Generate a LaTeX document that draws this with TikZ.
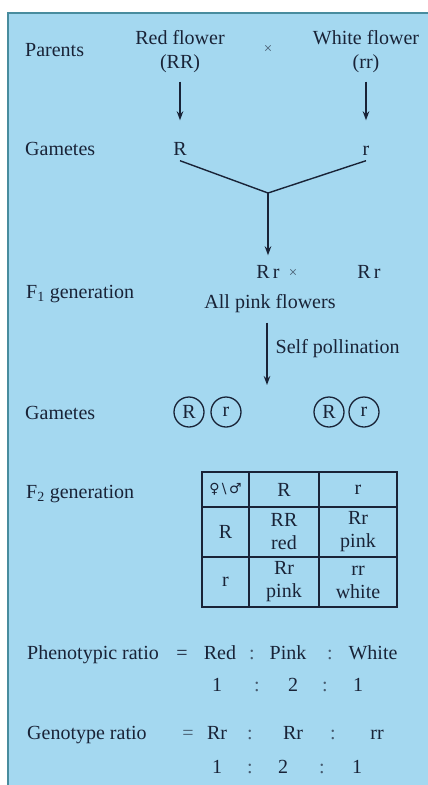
\documentclass[tikz,border=0pt]{standalone}
\usepackage{fontspec}
\setmainfont{Liberation Serif}
\newfontfamily\serifface{Liberation Serif}
\newfontfamily\symfont{DejaVu Sans}
\usetikzlibrary{arrows.meta}
\definecolor{bgblue}{RGB}{164,216,240}
\definecolor{edgeteal}{RGB}{72,140,158}
\definecolor{ink}{RGB}{25,35,55}
\definecolor{faint}{RGB}{70,90,110}
\begin{document}
\begin{tikzpicture}[x=1pt,y=-1pt,
  every node/.style={font=\serifface\fontsize{20}{23}\selectfont, text=ink, inner sep=0pt},
  txt/.style={text height=13pt, text depth=0pt},
  lbl/.style={txt, anchor=west},
  crs/.style={font=\serifface\fontsize{15}{18}\selectfont, text=faint},
  col/.style={txt, text=faint},
  arr/.style={draw=ink, line width=1.4pt, -{Stealth[length=9pt,width=6.5pt]}},
  ln/.style={draw=ink, line width=1.4pt},
  gam/.style={circle, draw=ink, line width=1.3pt, minimum size=30pt, inner sep=0pt},
  cell/.style={draw=ink, line width=1.8pt, align=center}
]
% frame
\useasboundingbox (0,0) rectangle (428,785);
\fill[white] (0,0) rectangle (428,785);
\fill[bgblue] (8,13) rectangle (428,785);
\draw[edgeteal, line width=2pt] (8,785) -- (8,13) -- (428,13);

% parents
\node[lbl] (parents) at (25,50) {Parents};
\node[txt] (redf) at (180,38) {Red flower};
\node[txt] (RR) at (180,62) {(RR)};
\node[crs] (x1) at (268,49) {×};
\node[txt] (whitef) at (366,38) {White flower};
\node[txt] (rrw) at (366,62) {(rr)};

% gametes
\node[lbl] (gam1) at (25,149) {Gametes};
\node[txt] (gR) at (180,149) {R};
\node[txt] (gr) at (366,149) {r};
\draw[arr, shorten <=13pt, shorten >=22pt] (RR.south) -- (gR.north);
\draw[arr, shorten <=13pt, shorten >=22pt] (rrw.south) -- (gr.north);
\coordinate (j) at (268,193);
\draw[ln] ([yshift=-5pt]gR.south) -- (j);
\draw[ln] ([yshift=-5pt]gr.south) -- (j);

% F1
\node[txt] (f1a) at (268,272) {R\,r};
\node[crs] (x2) at (293,273) {×};
\node[txt] (f1b) at (369,272) {R\,r};
\draw[arr, shorten >=10pt] (j) -- (f1a.north);
\node[lbl] (f1) at (26,292) {F\textsubscript{1} generation};
\node[txt] (pink) at (270,302) {All pink flowers};
\coordinate (sp) at (267,385);
\draw[arr, shorten <=14pt] (pink.south -| sp) -- (sp)
  node[midway, right=8pt, txt] (selfp) {Self pollination};

% gametes 2
\node[lbl] (gam2) at (25,413) {Gametes};
\node[gam] (c1) at (189,412) {R};
\node[gam] (c2) at (226,412) {r};
\node[gam] (c3) at (329,412) {R};
\node[gam] (c4) at (364,412) {r};

% F2
\node[lbl] (f2) at (26,492) {F\textsubscript{2} generation};
\node[cell, minimum width=47pt, minimum height=35pt] (t11) at (225.5,489.5)
  {\symfont\fontsize{14}{16}\selectfont ♀\,\textbackslash\,♂};
\node[cell, minimum width=70pt, minimum height=35pt] (t12) at (284,489.5) {R};
\node[cell, minimum width=78pt, minimum height=35pt] (t13) at (358,489.5) {r};
\node[cell, minimum width=47pt, minimum height=50pt] (t21) at (225.5,532) {R};
\node[cell, minimum width=70pt, minimum height=50pt] (t22) at (284,532) {RR\\red};
\node[cell, minimum width=78pt, minimum height=50pt] (t23) at (358,532) {Rr\\pink};
\node[cell, minimum width=47pt, minimum height=50pt] (t31) at (225.5,582) {r};
\node[cell, minimum width=70pt, minimum height=50pt] (t32) at (284,582) {Rr\\pink};
\node[cell, minimum width=78pt, minimum height=50pt] (t33) at (358,582) {rr\\white};

% phenotypic ratio
\node[lbl] (pr) at (27,653) {Phenotypic ratio};
\node[txt] (pe) at (182,653) {=};
\node[txt] (pred) at (220,653) {Red};
\node[col] (pc1) at (252,653) {:};
\node[txt] (ppink) at (288,653) {Pink};
\node[col] (pc2) at (330,653) {:};
\node[txt] (pwhite) at (373,653) {White};
\node[txt] (pn1) at (217,685) {1};
\node[col] (pc3) at (257,685) {:};
\node[txt] (pn2) at (293,685) {2};
\node[col] (pc4) at (325,685) {:};
\node[txt] (pn3) at (358,685) {1};

% genotype ratio
\node[lbl] (gt) at (27,733) {Genotype ratio};
\node[col] (ge) at (188,733) {=};
\node[txt] (g1) at (217,733) {Rr};
\node[col] (gc1) at (250,733) {:};
\node[txt] (g2) at (293,733) {Rr};
\node[col] (gc2) at (333,733) {:};
\node[txt] (g3) at (377,733) {rr};
\node[txt] (gn1) at (217,767) {1};
\node[col] (gc3) at (250,767) {:};
\node[txt] (gn2) at (283,767) {2};
\node[col] (gc4) at (322,767) {:};
\node[txt] (gn3) at (357,767) {1};
\end{tikzpicture}
\end{document}
